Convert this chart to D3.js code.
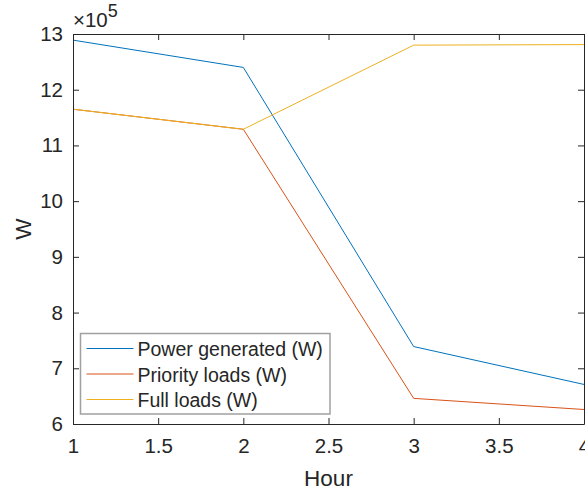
<!DOCTYPE html>
<html>
<head>
<meta charset="utf-8">
<script src="https://cdn.jsdelivr.net/npm/d3@7"></script>
<style>
body { margin:0; background:#fff; }
text { font-family: Arial, "Liberation Sans", Helvetica, sans-serif; fill:#262626; }
</style>
</head>
<body>
<div id="plot"></div>
<script>
// data (values in units of 1e5 W)
var hours = [1, 2, 3, 4];
var powerGenerated = [12.89, 12.40, 7.39, 6.71];
var priorityLoads = [11.65, 11.29, 6.46, 6.26];
var fullLoads = [11.65, 11.29, 12.80, 12.81];
var seriesNames = ['Power generated (W)', 'Priority loads (W)', 'Full loads (W)'];
var seriesColors = ['#0072BD', '#D95319', '#EDB120'];
var xTicks = [1, 1.5, 2, 2.5, 3, 3.5, 4];
var yTicks = [6, 7, 8, 9, 10, 11, 12, 13];

var W = 585, H = 492;
var margin = {t:34, r:1, b:68, l:73};
var width = W - margin.l - margin.r,
    height = H - margin.t - margin.b;

var svg = d3.select('#plot').append('svg')
    .attr('width', W)
    .attr('height', H);

var plot = svg.append('g')
    .attr('transform', 'translate(' + margin.l + ',' + margin.t + ')');

var x = d3.scaleLinear().domain([1, 4]).range([0, width]);
var y = d3.scaleLinear().domain([6, 13]).range([height, 0]);

var series = [powerGenerated, priorityLoads, fullLoads];

var line = d3.line()
    .x(function(d, i){ return x(hours[i]); })
    .y(function(d){ return y(d); });

series.forEach(function(s, k){
    plot.append('path')
        .datum(s)
        .attr('d', line)
        .attr('fill', 'none')
        .attr('stroke', seriesColors[k])
        .attr('stroke-width', 1);
});

// axes with inward ticks, MATLAB style box
var tickLen = 6;
var fmt = function(d){ return String(d); };
var xAxis = plot.append('g')
    .attr('transform', 'translate(0,' + height + ')')
    .call(d3.axisBottom(x).tickValues(xTicks).tickSizeInner(-tickLen).tickSizeOuter(0).tickPadding(14).tickFormat(fmt));
var yAxis = plot.append('g')
    .call(d3.axisLeft(y).tickValues(yTicks).tickSizeInner(-tickLen).tickSizeOuter(0).tickPadding(10).tickFormat(fmt));
var xTop = plot.append('g')
    .call(d3.axisTop(x).tickValues(xTicks).tickSizeInner(-tickLen).tickSizeOuter(0).tickFormat(''));
var yRight = plot.append('g')
    .attr('transform', 'translate(' + width + ',0)')
    .call(d3.axisRight(y).tickValues(yTicks).tickSizeInner(-tickLen).tickSizeOuter(0).tickFormat(''));

[xAxis, yAxis, xTop, yRight].forEach(function(a){
    a.selectAll('path, line').attr('stroke', '#262626').attr('stroke-width', 1);
    a.selectAll('text').style('font-size', '20.5px').style('fill', '#262626')
        .style('font-family', 'Arial, "Liberation Sans", sans-serif');
});
xAxis.selectAll('text').attr('dy', '0.71em');

// axis labels
svg.append('text')
    .attr('x', margin.l + width / 2)
    .attr('y', 486)
    .attr('text-anchor', 'middle')
    .style('font-size', '22.5px')
    .text('Hour');

svg.append('text')
    .attr('transform', 'translate(31,' + (margin.t + height / 2) + ') rotate(-90)')
    .attr('text-anchor', 'middle')
    .style('font-size', '22.5px')
    .text('W');

// exponent label
var expo = svg.append('text')
    .attr('x', 73)
    .attr('y', 27)
    .style('font-size', '20.5px');
expo.append('tspan').text('\u00d710');
expo.append('tspan').attr('dy', -10).style('font-size', '18px').text('5');

// legend
var legend = svg.append('g').attr('transform', 'translate(80.5,333.5)');
legend.append('rect')
    .attr('width', 249.5)
    .attr('height', 80.5)
    .attr('fill', '#fff')
    .attr('stroke', '#a0a0a0')
    .attr('stroke-width', 1.5);

seriesNames.forEach(function(name, k){
    var ly = 15 + k * 25.5;
    legend.append('line')
        .attr('x1', 6).attr('x2', 53)
        .attr('y1', ly).attr('y2', ly)
        .attr('stroke', seriesColors[k])
        .attr('stroke-width', 1);
    legend.append('text')
        .attr('x', 57)
        .attr('y', ly + 7.5)
        .style('font-size', '19.5px')
        .text(name);
});
</script>
</body>
</html>
